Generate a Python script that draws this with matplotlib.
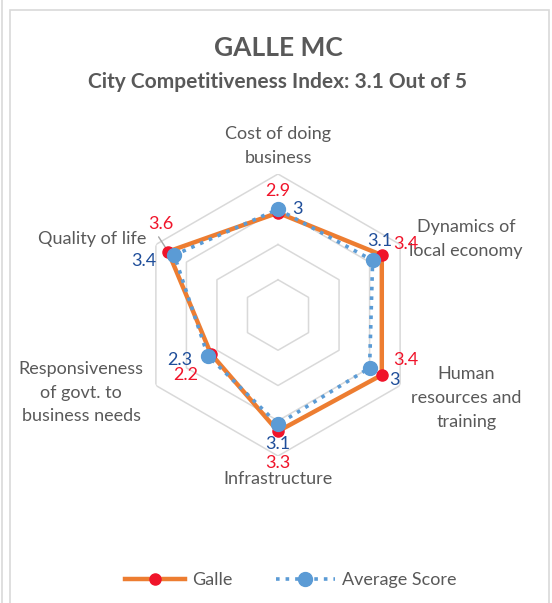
import numpy as np
import matplotlib
matplotlib.use('Agg')
import matplotlib.pyplot as plt
from matplotlib.lines import Line2D
from matplotlib.patches import Rectangle

plt.rcParams['font.family'] = ['Lato', 'DejaVu Sans']

# ======= Dados =======
categorias = ['Cost of doing\nbusiness', 'Dynamics of\nlocal economy', 'Human\nresources and\ntraining',
              'Infrastructure', 'Responsiveness\nof govt. to\nbusiness needs', 'Quality of life']
galle = [2.9, 3.4, 3.4, 3.3, 2.2, 3.6]
media = [3, 3.1, 3, 3.1, 2.3, 3.4]
niveis = [1, 2, 3, 4]

# deslocamentos dos rótulos de dados (pixels)
off_galle = [(0, 22), (24, 11), (24, 15), (0, -32), (-25, -21), (-7, 28)]
off_media = [(19, 0), (7, 19), (25, -12), (0, -20), (-28, -4), (-30, -6)]

COR_TEXTO = '#595959'
LARANJA = '#ED7D31'
VERMELHO = '#F0142A'
AZUL = '#5B9BD5'
AZUL_ESC = '#1F4E9A'

W, H = 552, 603
fig = plt.figure(figsize=(W / 100, H / 100), dpi=100)

# moldura do gráfico
fig.patches.append(Rectangle((10 / W, -0.01), 539 / W, 1 - 10 / H + 0.01, transform=fig.transFigure,
                             fill=False, edgecolor='#D9D9D9', linewidth=1.2))
fig.add_artist(Line2D([2 / W, 2 / W], [0, 1], color='#D9D9D9', linewidth=1.2))

# título
fig.text(278 / W, 1 - 48 / H, 'GALLE MC', ha='center', va='center', fontsize=19,
         fontweight='bold', color=COR_TEXTO)
fig.text(278 / W, 1 - 82 / H, 'City Competitiveness Index: 3.1 Out of 5', ha='center', va='center',
         fontsize=15, fontweight='bold', color=COR_TEXTO)

# eixo polar
cx, cy, R = 278, 315, 141
ax = fig.add_axes([(cx - R) / W, 1 - (cy + R) / H, 2 * R / W, 2 * R / H], projection='polar')
ax.set_theta_offset(np.pi / 2)
ax.set_theta_direction(-1)
ax.set_ylim(0, 4)
ax.grid(False)
ax.set_xticks([])
ax.set_yticks([])
ax.spines['polar'].set_visible(False)
ax.patch.set_alpha(0)

n = len(categorias)
ang = np.linspace(0, 2 * np.pi, n, endpoint=False)
ang_f = np.append(ang, ang[0])

# grade hexagonal
for nv in niveis:
    ax.plot(ang_f, [nv] * (n + 1), color='#D9D9D9', linewidth=1.1, zorder=1)

g = np.append(galle, galle[0])
m = np.append(media, media[0])
ax.plot(ang_f, g, color=LARANJA, linewidth=3.2, zorder=3)
ax.plot(ang, galle, 'o', color=VERMELHO, markersize=8, zorder=4)
ax.plot(ang_f, m, ':', color=AZUL, linewidth=2.6, zorder=5)
ax.plot(ang, media, 'o', color=AZUL, markersize=10, zorder=6)

# rótulos das categorias
pos_cat = [(0, 4.22, 'center', 'bottom'), (np.deg2rad(60), 4.3, 'left', 'center'),
           (np.deg2rad(122), 4.45, 'left', 'center'), (np.pi, 4.42, 'center', 'top'),
           (np.deg2rad(240), 4.4, 'right', 'center'), (np.deg2rad(300), 4.3, 'right', 'center')]
for cat, (t, r, ha, va) in zip(categorias, pos_cat):
    ax.text(t, r, cat, ha=ha, va=va, fontsize=13, color=COR_TEXTO, linespacing=1.6,
            multialignment='center')

# rótulos de dados
for i in range(n):
    ax.annotate(f'{galle[i]:g}', xy=(ang[i], galle[i]), xytext=off_galle[i], textcoords='offset pixels',
                ha='center', va='center', fontsize=13, color=VERMELHO, zorder=7)
    ax.annotate(f'{media[i]:g}', xy=(ang[i], media[i]), xytext=off_media[i], textcoords='offset pixels',
                ha='center', va='center', fontsize=13, color=AZUL_ESC, zorder=7)

# linha guia do 3.6
ax.annotate('', xy=(ang[5], galle[5]), xytext=(-11, 17), textcoords='offset pixels',
            arrowprops=dict(arrowstyle='-', color='#A6A6A6', linewidth=1))

# legenda
h1 = Line2D([], [], color=LARANJA, linewidth=3.2, marker='o', markerfacecolor=VERMELHO,
            markeredgecolor=VERMELHO, markersize=8)
h2 = Line2D([], [], color=AZUL, linewidth=2.6, linestyle=':', marker='o', markersize=10)
fig.legend([h1, h2], ['Galle', 'Average Score'], loc='center', bbox_to_anchor=(291 / W, 1 - 580 / H),
           ncol=2, frameon=False, fontsize=13, labelcolor=COR_TEXTO, handlelength=3.3,
           columnspacing=2.4, handletextpad=0.4)

plt.savefig('out.png', dpi=100)
